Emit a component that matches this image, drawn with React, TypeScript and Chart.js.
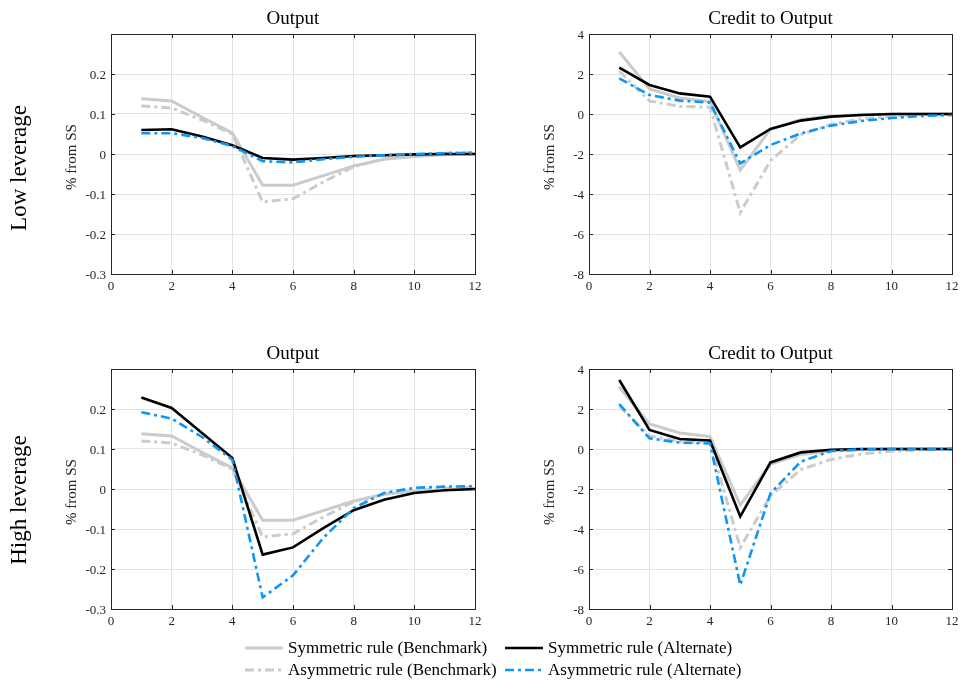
import React, { useEffect, useRef, useState } from "react";
import { Chart, registerables } from "chart.js";

Chart.register(...registerables);

// ---------- data ----------
const periods = [1, 2, 3, 4, 5, 6, 7, 8, 9, 10, 11, 12];

const outSymBench = [0.138, 0.1325, 0.092, 0.0525, -0.078, -0.078, -0.054, -0.03, -0.013, -0.006, -0.002, 0.0];
const outAsymBench = [0.12, 0.115, 0.085, 0.05, -0.12, -0.112, -0.07, -0.032, -0.012, -0.004, 0.002, 0.004];
const lowOutSymAlt = [0.06, 0.062, 0.044, 0.022, -0.01, -0.014, -0.01, -0.005, -0.003, -0.001, 0.0, 0.0];
const lowOutAsymAlt = [0.052, 0.052, 0.04, 0.02, -0.018, -0.021, -0.013, -0.007, -0.003, 0.0, 0.002, 0.003];
const highOutSymAlt = [0.229, 0.2025, 0.14, 0.0775, -0.164, -0.146, -0.098, -0.053, -0.027, -0.01, -0.003, 0.0];
const highOutAsymAlt = [0.192, 0.176, 0.13, 0.073, -0.271, -0.216, -0.122, -0.048, -0.01, 0.003, 0.006, 0.007];

const credSymBench = [3.1, 1.25, 0.8, 0.62, -2.8, -0.75, -0.27, -0.1, -0.04, -0.01, 0.0, 0.0];
const credAsymBench = [2.15, 0.65, 0.38, 0.34, -4.93, -2.33, -1.03, -0.52, -0.25, -0.11, -0.04, -0.01];
const lowCredSymAlt = [2.32, 1.45, 1.03, 0.87, -1.67, -0.75, -0.33, -0.13, -0.05, 0.0, 0.0, 0.0];
const lowCredAsymAlt = [1.78, 0.95, 0.67, 0.57, -2.47, -1.55, -0.97, -0.58, -0.35, -0.2, -0.1, -0.05];
const highCredSymAlt = [3.45, 0.95, 0.5, 0.43, -3.38, -0.67, -0.17, -0.04, 0.0, 0.0, 0.0, 0.0];
const highCredAsymAlt = [2.25, 0.53, 0.32, 0.28, -6.8, -2.22, -0.63, -0.1, -0.02, 0.0, 0.0, 0.0];

const xTicks = [0, 2, 4, 6, 8, 10, 12];
const xTickLabels = ["0", "2", "4", "6", "8", "10", "12"];
const outYTicks = [-0.3, -0.2, -0.1, 0, 0.1, 0.2];
const outYTickLabels = ["-0.3", "-0.2", "-0.1", "0", "0.1", "0.2"];
const credYTicks = [-8, -6, -4, -2, 0, 2, 4];
const credYTickLabels = ["-8", "-6", "-4", "-2", "0", "2", "4"];

const seriesNames = [
  "Symmetric rule (Benchmark)",
  "Asymmetric rule (Benchmark)",
  "Symmetric rule (Alternate)",
  "Asymmetric rule (Alternate)",
];
const rowLabels = ["Low leverage", "High leverage"];
const yAxisTitle = "% from SS";

// ---------- styles ----------
const FONT = '"Liberation Serif", "DejaVu Serif", serif';
const GRAY = "#cbcbcb";
const BLUE = "#0d96f5";
const BLACK = "#000000";
const TEXT = "#262626";
const DASH = [9, 4, 3, 4];

const seriesStyles = [
  { color: GRAY, width: 3, dash: [] as number[] },
  { color: GRAY, width: 3, dash: DASH },
  { color: BLACK, width: 2.6, dash: [] as number[] },
  { color: BLUE, width: 2.6, dash: DASH },
];

type Panel = {
  title: string;
  L: number; R: number; T: number; B: number;
  min: number; max: number;
  yTicks: number[]; yLabels: string[];
  series: number[][];
};

const panels: Panel[] = [
  { title: "Output", L: 111, R: 475, T: 34, B: 274, min: -0.3, max: 0.3, yTicks: outYTicks, yLabels: outYTickLabels,
    series: [outSymBench, outAsymBench, lowOutSymAlt, lowOutAsymAlt] },
  { title: "Credit to Output", L: 589, R: 952, T: 34, B: 274, min: -8, max: 4, yTicks: credYTicks, yLabels: credYTickLabels,
    series: [credSymBench, credAsymBench, lowCredSymAlt, lowCredAsymAlt] },
  { title: "Output", L: 111, R: 475, T: 369, B: 609, min: -0.3, max: 0.3, yTicks: outYTicks, yLabels: outYTickLabels,
    series: [outSymBench, outAsymBench, highOutSymAlt, highOutAsymAlt] },
  { title: "Credit to Output", L: 589, R: 952, T: 369, B: 609, min: -8, max: 4, yTicks: credYTicks, yLabels: credYTickLabels,
    series: [credSymBench, credAsymBench, highCredSymAlt, highCredAsymAlt] },
];

const PAD_L = 55, PAD_T = 30, PAD_B = 25, PAD_R = 12;

const boxPlugin = {
  id: "boxTicks",
  afterDraw(chart: any) {
    const { ctx, chartArea: a, scales } = chart;
    ctx.save();
    ctx.strokeStyle = TEXT;
    ctx.lineWidth = 1;
    ctx.beginPath();
    const tl = 4;
    for (const t of scales.x.ticks) {
      const px = Math.round(scales.x.getPixelForValue(t.value)) + 0.5;
      ctx.moveTo(px, a.bottom); ctx.lineTo(px, a.bottom - tl);
      ctx.moveTo(px, a.top); ctx.lineTo(px, a.top + tl);
    }
    for (const t of scales.y.ticks) {
      const py = Math.round(scales.y.getPixelForValue(t.value)) + 0.5;
      ctx.moveTo(a.left, py); ctx.lineTo(a.left + tl, py);
      ctx.moveTo(a.right, py); ctx.lineTo(a.right - tl, py);
    }
    ctx.stroke();
    ctx.strokeRect(Math.round(a.left) + 0.5, Math.round(a.top) + 0.5, Math.round(a.right - a.left), Math.round(a.bottom - a.top));
    ctx.restore();
  },
};

type Lbl = { text: string; pos: number };
type Geo = { xs: Lbl[]; ys: Lbl[]; area: { left: number; right: number; top: number; bottom: number } };

function PanelChart({ p }: { p: Panel }) {
  const ref = useRef<HTMLCanvasElement>(null);
  const [geo, setGeo] = useState<Geo | null>(null);
  useEffect(() => {
    if (!ref.current) return;
    const order = [4, 3, 2, 1];
    const chart: any = new Chart(ref.current, {
      type: "line",
      data: {
        datasets: p.series.map((s, i) => ({
          label: seriesNames[i],
          data: periods.map((x, j) => ({ x, y: s[j] })),
          borderColor: seriesStyles[i].color,
          borderWidth: seriesStyles[i].width,
          borderDash: seriesStyles[i].dash,
          pointRadius: 0,
          tension: 0,
          fill: false,
          order: order[i],
          borderJoinStyle: "miter",
        })),
      },
      options: {
        animation: false,
        responsive: false,
        maintainAspectRatio: false,
        layout: { padding: { left: 0, right: PAD_R, top: PAD_T, bottom: 0 } },
        plugins: {
          legend: { display: false },
          tooltip: { enabled: false },
          title: { display: false },
        },
        scales: {
          x: {
            type: "linear",
            min: 0,
            max: 12,
            afterBuildTicks: (axis: any) => { axis.ticks = xTicks.map((v) => ({ value: v })); },
            afterFit: (axis: any) => { axis.height = PAD_B; },
            ticks: { display: false },
            grid: { color: "#e3e3e3", lineWidth: 1, drawTicks: false },
            border: { display: false },
          },
          y: {
            type: "linear",
            min: p.min,
            max: p.max,
            afterBuildTicks: (axis: any) => { axis.ticks = p.yTicks.map((v) => ({ value: v })); },
            afterFit: (axis: any) => { axis.width = PAD_L; },
            ticks: { display: false },
            grid: { color: "#e3e3e3", lineWidth: 1, drawTicks: false },
            border: { display: false },
          },
        },
      },
      plugins: [boxPlugin],
    } as any);
    const sx = chart.scales.x;
    const sy = chart.scales.y;
    setGeo({
      xs: xTicks.map((v, i) => ({ text: xTickLabels[i], pos: sx.getPixelForValue(v) })),
      ys: p.yTicks.map((v, i) => ({ text: p.yLabels[i], pos: sy.getPixelForValue(v) })),
      area: { ...chart.chartArea },
    });
    return () => chart.destroy();
  }, [p]);
  const w = p.R - p.L + PAD_L + PAD_R;
  const h = p.B - p.T + PAD_T + PAD_B;
  const ox = p.L - PAD_L;
  const oy = p.T - PAD_T;
  const tickStyle: React.CSSProperties = { position: "absolute", fontFamily: FONT, fontSize: 13, color: TEXT, whiteSpace: "nowrap", lineHeight: "15px" };
  return (
    <>
      <canvas
        ref={ref}
        width={w}
        height={h}
        style={{ position: "absolute", left: ox, top: oy, width: w, height: h }}
      />
      {geo && (
        <>
          <div
            style={{
              position: "absolute",
              left: ox + (geo.area.left + geo.area.right) / 2,
              top: oy + geo.area.top - 16,
              transform: "translate(-50%, -50%)",
              fontFamily: FONT,
              fontSize: 19,
              color: "#000",
              whiteSpace: "nowrap",
            }}
          >
            {p.title}
          </div>
          <div
            style={{
              position: "absolute",
              left: ox + geo.area.left - 40,
              top: oy + (geo.area.top + geo.area.bottom) / 2 + 3,
              transform: "translate(-50%, -50%) rotate(-90deg)",
              fontFamily: FONT,
              fontSize: 15,
              color: TEXT,
              whiteSpace: "nowrap",
            }}
          >
            {yAxisTitle}
          </div>
          {geo.xs.map((l) => (
            <div key={"x" + l.text} style={{ ...tickStyle, left: ox + l.pos, top: oy + geo.area.bottom + 11, transform: "translate(-50%, -50%)" }}>
              {l.text}
            </div>
          ))}
          {geo.ys.map((l) => (
            <div key={"y" + l.text} style={{ ...tickStyle, right: 962 - (ox + geo.area.left - 5), top: oy + l.pos, transform: "translateY(-50%)" }}>
              {l.text}
            </div>
          ))}
        </>
      )}
    </>
  );
}

function LegendItem({ i, x, y }: { i: number; x: number; y: number }) {
  const s = seriesStyles[i];
  return (
    <div style={{ position: "absolute", left: x, top: y - 11, height: 22, display: "flex", alignItems: "center", whiteSpace: "nowrap" }}>
      <svg width={40} height={6} style={{ marginRight: 4 }}>
        <line x1={1} y1={3} x2={39} y2={3} stroke={s.color} strokeWidth={s.width} strokeDasharray={s.dash.length ? s.dash.join(",") : undefined} />
      </svg>
      <span style={{ fontFamily: FONT, fontSize: 17, color: "#000" }}>{seriesNames[i]}</span>
    </div>
  );
}

export default function App() {
  return (
    <div style={{ position: "absolute", left: 0, top: 0, width: 962, height: 686, background: "#fff", overflow: "hidden", fontFamily: FONT }}>
      {panels.map((p, i) => (
        <PanelChart key={i} p={p} />
      ))}
      {rowLabels.map((t, i) => (
        <div
          key={t}
          style={{
            position: "absolute",
            left: 19,
            top: i === 0 ? 168 : 500,
            transform: "translate(-50%, -50%) rotate(-90deg)",
            fontFamily: FONT,
            fontSize: 23,
            whiteSpace: "nowrap",
            color: "#000",
          }}
        >
          {t}
        </div>
      ))}
      <LegendItem i={0} x={244} y={648} />
      <LegendItem i={2} x={504} y={648} />
      <LegendItem i={1} x={244} y={670} />
      <LegendItem i={3} x={504} y={670} />
    </div>
  );
}
